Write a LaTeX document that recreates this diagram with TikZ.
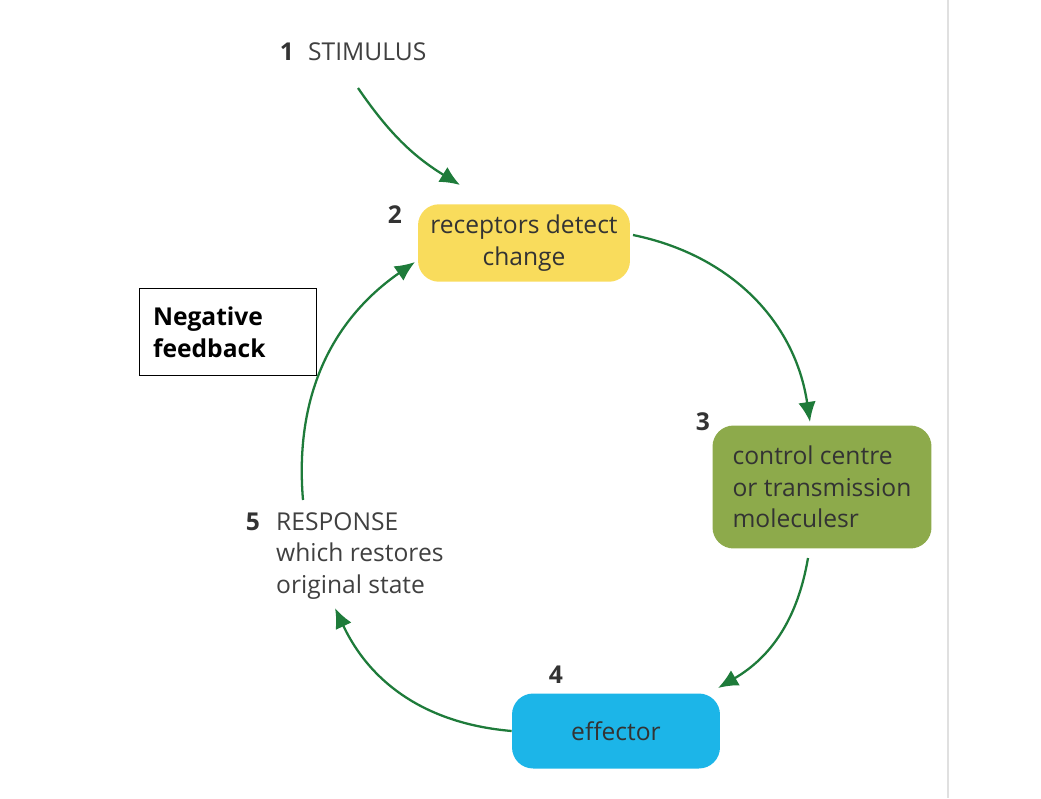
\documentclass[tikz,border=0pt]{standalone}
\usepackage{fontspec}
\setmainfont{Open Sans}
\usetikzlibrary{positioning,arrows.meta}
\definecolor{arrowgreen}{HTML}{1E7B3A}
\definecolor{recyellow}{HTML}{F9DC5C}
\definecolor{ctrlgreen}{HTML}{8DAA4B}
\definecolor{effblue}{HTML}{1CB5E8}
\tikzset{
    stagebox/.style={rounded corners=12pt, inner sep=0pt, align=center, text=black!80},
    flow/.style={-{Latex[length=4mm,width=3.5mm]}, arrowgreen, line width=1.3pt},
    num/.style={font=\fontsize{14}{18}\selectfont\bfseries, text=black!80},
}
\begin{document}
\begin{tikzpicture}[x=0.02cm,y=-0.02cm, every node/.style={font=\fontsize{14}{18}\selectfont}]
        \useasboundingbox (0,0) rectangle (1041,798);
\draw[black!12, line width=1pt] (948,0) -- (948,798);

% stages
\node[num] (n1) at (287,52) {1};
\node[anchor=west, text=black!75] (stim) at (302,52) {STIMULUS};
\node[stagebox, fill=recyellow, minimum width=4.24cm,
      minimum height=1.55cm] (rec) at (524,243) {receptors detect\\change};
\node[num] (n2) at (395,215) {2};
\node[stagebox, fill=ctrlgreen, minimum width=4.38cm, minimum height=2.46cm,
      align=left] (ctrl) at (822,487) {control centre\\or transmission\\moleculesr};
\node[num] (n3) at (703,422) {3};
\node[stagebox, fill=effblue, minimum width=4.16cm, minimum height=1.5cm] (eff) at (616,731) {effector};
\node[num] (n4) at (556,675) {4};
\node[num] (n5) at (253,522) {5};
\node[anchor=north west, align=left, text=black!75] (resp) at (270,506) {RESPONSE\\which restores\\original state};
\node[draw, line width=1pt, align=left, font=\fontsize{14}{18}\selectfont\bfseries,
      minimum width=3.54cm, minimum height=1.74cm, text width=3cm] (neg) at (228,332) {Negative\\feedback};

% connectors
\coordinate (s0) at (358,88);
\coordinate (s1) at (460,185);
\coordinate (c0) at (633,235);
\coordinate (c1) at (810,422);
\coordinate (e0) at (808,558);
\coordinate (e1) at (718,688);
\coordinate (r0) at (303,500);
\coordinate (r1) at (335,608);
\coordinate (p1) at (415,262);
\draw[flow] (s0) to[bend right=12] (s1);
\draw[flow] (c0) to[bend left=35] (c1);
\draw[flow] (e0) to[bend left=25] (e1);
\draw[flow] (eff.west) to[bend left=30] (r1);
\draw[flow] (r0) to[bend left=30] (p1);
\end{tikzpicture}
\end{document}
